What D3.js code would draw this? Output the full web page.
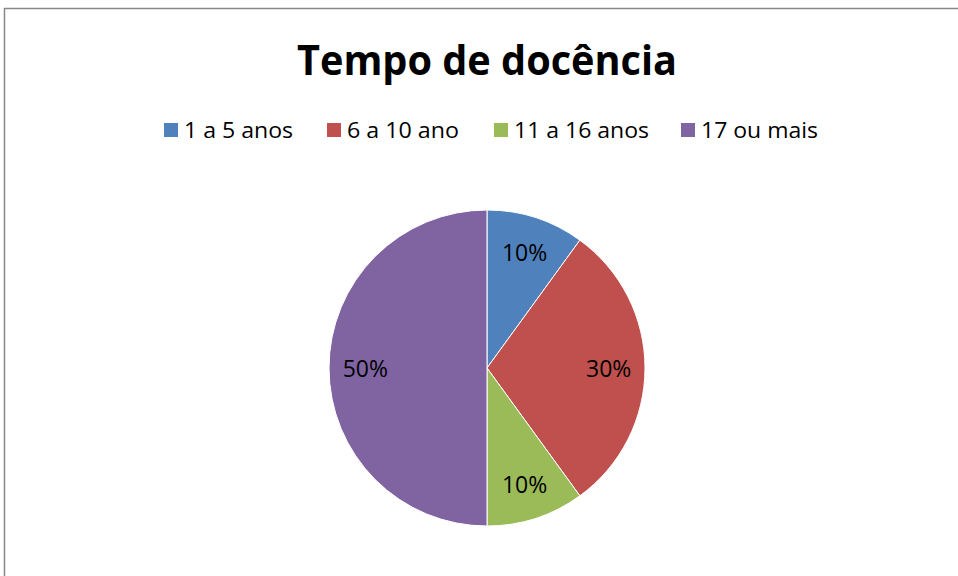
<!DOCTYPE html>
<html><head><meta charset="utf-8">
<script src="https://cdn.jsdelivr.net/npm/d3@7"></script>
<style>body{margin:0;background:#fff}svg{display:block}</style>
</head><body>
<script>
const title = "Tempo de docência";
const categories = ["1 a 5 anos", "6 a 10 ano", "11 a 16 anos", "17 ou mais"];
const values = [10, 30, 10, 50];
const colors = ["#4f81bd", "#c0504d", "#9bbb59", "#8064a2"];

const W = 958, H = 576;
const svg = d3.select("body").append("svg").attr("width", W).attr("height", H);
svg.append("rect").attr("x", 4.5).attr("y", 8.5).attr("width", 1000).attr("height", 1000)
  .attr("fill", "#fff").attr("stroke", "#888").attr("stroke-width", 1.5);

const font = "'Open Sans', sans-serif";
svg.append("text").attr("x", 487).attr("y", 75).attr("text-anchor", "middle")
  .attr("font-family", font).attr("font-weight", "bold").attr("font-size", 42)
  .attr("textLength", 380).attr("lengthAdjust", "spacingAndGlyphs")
  .attr("fill", "#000").text(title);

// legend
const legendX = [164, 327, 494, 681];
const legendW = [109, 112, 135, 117];
const lg = svg.append("g");
categories.forEach((c, i) => {
  lg.append("rect").attr("x", legendX[i]).attr("y", 123).attr("width", 14).attr("height", 14).attr("fill", colors[i]);
  lg.append("text").attr("x", legendX[i] + 20).attr("y", 137.5).attr("font-family", font)
    .attr("font-size", 22).attr("textLength", legendW[i]).attr("lengthAdjust", "spacingAndGlyphs")
    .attr("fill", "#000").text(c);
});

const cx = 487, cy = 368, R = 158;
const pie = d3.pie().sort(null).value(d => d)(values);
const arc = d3.arc().innerRadius(0).outerRadius(R);
const labelArc = d3.arc().innerRadius(R * 0.77).outerRadius(R * 0.77);
const g = svg.append("g").attr("transform", `translate(${cx},${cy})`);
g.selectAll("path").data(pie).join("path").attr("d", arc)
  .attr("fill", (d, i) => colors[i]).attr("stroke", "#fff").attr("stroke-width", 1);
const total = d3.sum(values);
g.selectAll("text").data(pie).join("text")
  .attr("transform", d => `translate(${labelArc.centroid(d)})`)
  .attr("text-anchor", "middle").attr("dy", "0.4em")
  .attr("font-family", font).attr("font-size", 23).attr("fill", "#000")
  .text(d => Math.round(d.value / total * 100) + "%");
</script>
</body></html>
